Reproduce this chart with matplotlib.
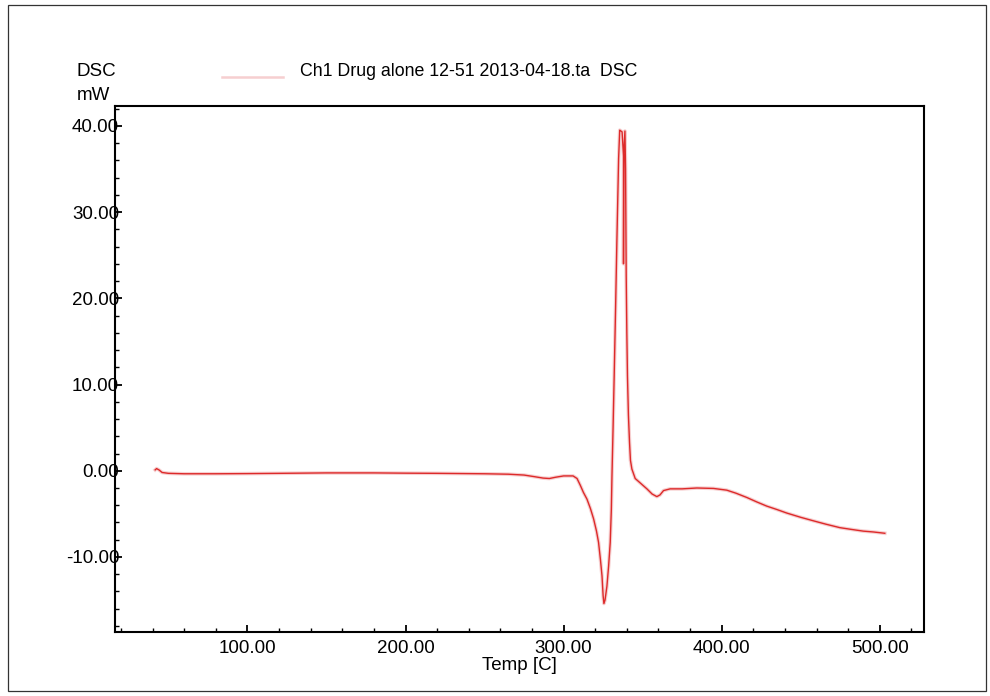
"""DSC thermogram: Ch1 Drug alone 12-51 2013-04-18.ta."""

import matplotlib

matplotlib.use("Agg")
import matplotlib.pyplot as plt
from matplotlib.lines import Line2D
from matplotlib.patches import Rectangle
from matplotlib.ticker import MultipleLocator, FormatStrFormatter

# ---------------------------------------------------------------------------
# Data
# ---------------------------------------------------------------------------
TEMP_C = [
    41.6, 42.5, 44.0, 46.0, 50.0, 60.0, 80.0, 100.0, 120.0, 150.0, 180.0,
    200.0, 220.0, 250.0, 265.0, 275.0, 282.0, 287.0, 291.0, 295.0, 300.0,
    306.0, 308.5, 310.6, 312.5, 314.8, 317.0, 319.0, 320.8, 322.1, 323.3,
    324.3, 325.0, 325.5, 326.2, 327.4, 328.5, 329.5, 330.2, 330.6, 331.3,
    332.0, 332.9, 333.7, 334.8, 335.5, 337.0, 337.9, 337.9, 338.1, 338.8,
    339.2, 339.6, 340.0, 340.4, 341.0, 341.7, 342.3, 343.2, 345.3, 349.0,
    352.7, 356.0, 359.0, 361.0, 363.2, 367.4, 375.0, 384.3, 394.8, 403.2,
    409.0, 415.9, 422.0, 428.5, 435.0, 441.1, 450.0, 457.9, 466.0, 474.8,
    482.0, 489.5, 496.0, 503.2,
]
DSC_MW = [
    0.1, 0.25, 0.1, -0.2, -0.3, -0.35, -0.35, -0.33, -0.3, -0.25, -0.25,
    -0.28, -0.3, -0.35, -0.4, -0.5, -0.7, -0.85, -0.9, -0.75, -0.6,
    -0.6, -0.9, -1.7, -2.5, -3.3, -4.4, -5.6, -7.0, -8.3, -10.3,
    -12.2, -14.5, -15.4, -15.0, -13.4, -11.0, -8.3, -4.5, -0.6, 5.0,
    11.0, 19.0, 26.6, 36.2, 39.5, 39.3, 36.5, 24.0, 36.8, 39.4,
    35.0, 22.7, 16.0, 11.0, 6.5, 3.3, 1.2, 0.2, -0.9, -1.5,
    -2.1, -2.7, -3.0, -2.8, -2.3, -2.1, -2.1, -2.0, -2.05, -2.25,
    -2.6, -3.1, -3.6, -4.1, -4.5, -4.9, -5.4, -5.8, -6.2, -6.6,
    -6.8, -7.0, -7.1, -7.25,
]

LEGEND_LABEL = "Ch1 Drug alone 12-51 2013-04-18.ta  DSC"
X_LABEL = "Temp [C]"
Y_LABEL_TOP = "DSC"
Y_LABEL_UNIT = "mW"

# ---------------------------------------------------------------------------
# Style
# ---------------------------------------------------------------------------
W, H = 990, 696
TRACE = "#dd2a2a"
HALO = "#f6cfd0"
FONT = "Liberation Sans"
TICK_SIZE = 13.5

plt.rcParams["font.family"] = [FONT, "DejaVu Sans"]


def _px(x, y):
    """Pixel position (from top-left) -> figure fraction."""
    return x / W, 1 - y / H


fig = plt.figure(figsize=(W / 100, H / 100), dpi=100)
fig.patches.append(Rectangle(_px(8, 691), (986 - 8) / W, (691 - 5) / H,
                             transform=fig.transFigure, fill=False,
                             edgecolor="#333333", linewidth=0.9))

left, top = _px(115, 106)
right, bottom = _px(924, 632)
ax = fig.add_axes([left, bottom, right - left, top - bottom])

ax.plot(TEMP_C, DSC_MW, color=HALO, linewidth=2.6, solid_joinstyle="round")
ax.plot(TEMP_C, DSC_MW, color=TRACE, linewidth=1.0, solid_joinstyle="round")

ax.set_xlim(16.2, 528)
ax.set_ylim(-18.7, 42.3)
ax.xaxis.set_major_locator(MultipleLocator(100))
ax.xaxis.set_minor_locator(MultipleLocator(20))
ax.yaxis.set_major_locator(MultipleLocator(10))
ax.yaxis.set_minor_locator(MultipleLocator(2))
ax.xaxis.set_major_formatter(FormatStrFormatter("%.2f"))
ax.yaxis.set_major_formatter(FormatStrFormatter("%.2f"))

for side in ("top", "right", "bottom", "left"):
    ax.spines[side].set_linewidth(1.5)
ax.tick_params(which="major", direction="in", length=5, width=1.3,
               labelsize=TICK_SIZE, top=False, right=False)
ax.tick_params(which="minor", direction="in", length=3, width=1.0,
               top=False, right=False)
ax.tick_params(axis="y", which="major", pad=-3)
ax.tick_params(axis="x", which="major", pad=6)

ax.set_xlabel(X_LABEL, fontsize=TICK_SIZE, labelpad=0)

# axis title block above the y axis
fig.text(*_px(77, 72), Y_LABEL_TOP, fontsize=TICK_SIZE, ha="left", va="center")
fig.text(*_px(77, 96), Y_LABEL_UNIT, fontsize=TICK_SIZE, ha="left", va="center")

# legend entry drawn the way the instrument software lays it out
x0, y0 = _px(222, 77)
x1, _ = _px(283, 77)
fig.lines.append(Line2D([x0, x1], [y0, y0], transform=fig.transFigure,
                        color=HALO, linewidth=1.8))
fig.text(*_px(300, 71), LEGEND_LABEL, fontsize=12.8,
         ha="left", va="center")

fig.savefig("out.png", dpi=100)
